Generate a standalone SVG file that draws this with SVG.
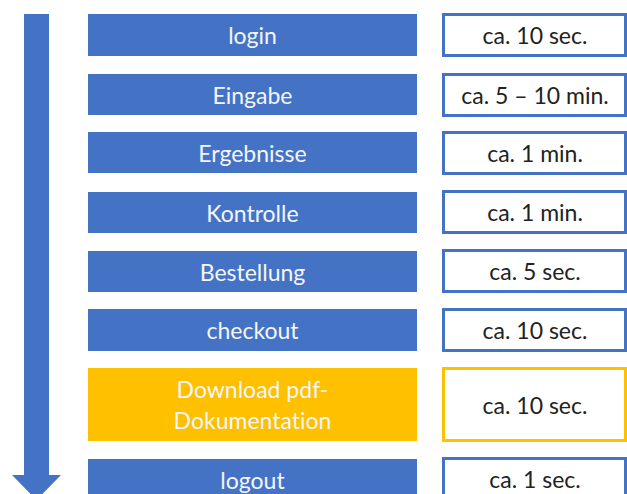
<svg xmlns="http://www.w3.org/2000/svg" width="627" height="494" viewBox="0 0 627 494">
<style>
.bar{fill:#4472C4}
.ybar{fill:#FFC000}
.box{fill:#fff;stroke:#4472C4;stroke-width:3}
.ybox{fill:#fff;stroke:#FFC000;stroke-width:3}
.lt{font-family:Lato,"Open Sans","Liberation Sans",sans-serif;font-size:23px;fill:#f4f6fb;text-anchor:middle;dominant-baseline:central;font-variant-ligatures:none}
.rt{font-family:Lato,"Open Sans","Liberation Sans",sans-serif;font-size:23px;fill:#222;text-anchor:middle;dominant-baseline:central;font-variant-ligatures:none}
</style>
<rect width="627" height="494" fill="#fff"/>
<g id="connectors">
<rect x="24" y="14" width="25" height="462" fill="#4472C4"/>
<polygon points="12,475 61,475 36.5,500" fill="#4472C4"/>
</g>
<g id="login"><rect class="bar" x="88" y="14" width="329" height="42"/><text class="lt" x="252.5" y="35">login</text></g>
<g id="t-login"><rect class="box" x="443.5" y="14.5" width="182" height="41"/><text class="rt" x="535" y="35">ca. 10 sec.</text></g>
<g id="eingabe"><rect class="bar" x="88" y="74" width="329" height="41"/><text class="lt" x="252.5" y="94.5">Eingabe</text></g>
<g id="t-eingabe"><rect class="box" x="443.5" y="74.5" width="182" height="41"/><text class="rt" x="535" y="95">ca. 5 – 10 min.</text></g>
<g id="ergebnisse"><rect class="bar" x="88" y="132" width="329" height="41"/><text class="lt" x="252.5" y="152.5">Ergebnisse</text></g>
<g id="t-ergebnisse"><rect class="box" x="443.5" y="132.5" width="182" height="41"/><text class="rt" x="535" y="153">ca. 1 min.</text></g>
<g id="kontrolle"><rect class="bar" x="88" y="192" width="329" height="41"/><text class="lt" x="252.5" y="212.5">Kontrolle</text></g>
<g id="t-kontrolle"><rect class="box" x="443.5" y="191.5" width="182" height="41"/><text class="rt" x="535" y="212">ca. 1 min.</text></g>
<g id="bestellung"><rect class="bar" x="88" y="251" width="329" height="41"/><text class="lt" x="252.5" y="271.5">Bestellung</text></g>
<g id="t-bestellung"><rect class="box" x="443.5" y="250.5" width="182" height="41"/><text class="rt" x="535" y="271">ca. 5 sec.</text></g>
<g id="checkout"><rect class="bar" x="88" y="309" width="329" height="42"/><text class="lt" x="252.5" y="330">checkout</text></g>
<g id="t-checkout"><rect class="box" x="443.5" y="309.5" width="182" height="41"/><text class="rt" x="535" y="330">ca. 10 sec.</text></g>
<g id="download"><rect class="ybar" x="88" y="368" width="329" height="73"/><text class="lt" x="252.5" y="389">Download pdf-</text><text class="lt" x="252.5" y="420">Dokumentation</text></g>
<g id="t-download"><rect class="ybox" x="443.5" y="368.5" width="182" height="72"/><text class="rt" x="535" y="405">ca. 10 sec.</text></g>
<g id="logout"><rect class="bar" x="88" y="459" width="329" height="40"/><text class="lt" x="252.5" y="480">logout</text></g>
<g id="t-logout"><rect class="box" x="443.5" y="458.5" width="182" height="40"/><text class="rt" x="535" y="479">ca. 1 sec.</text></g>
</svg>
